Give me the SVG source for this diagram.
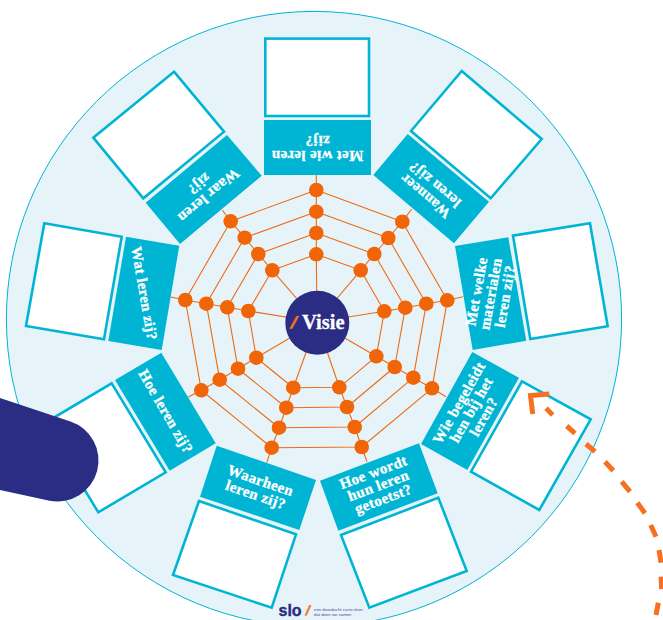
<svg xmlns="http://www.w3.org/2000/svg" width="663" height="620" viewBox="0 0 663 620">
<style>
.tab{fill:#00b5d4}
.box{fill:#fff;stroke:#00b5d4;stroke-width:2.6;stroke-linejoin:miter}
.lbl{font-family:"Liberation Serif","DejaVu Serif",serif;font-weight:700;font-size:15px;fill:#fff;stroke:#fff;stroke-width:.3px;text-anchor:middle;letter-spacing:.35px}
.web{fill:none;stroke:#ef6a10;stroke-width:1.1;stroke-linejoin:round}
.dot{fill:#ef6508}
.dash{fill:none;stroke:#f76f20;stroke-width:5}
</style>
<rect width="663" height="620" fill="#fff"/>
<circle id="wheel" cx="314" cy="319" r="307.6" fill="#e6f4fa" stroke="#00b5d4" stroke-width="1"/>
<g id="connectors">
<g class="web">
<polygon points="316.3,190 402.3,221.7 447.3,300.3 432,388.3 361.7,447 271.7,447.7 201.3,390.3 185.3,300 230.7,221.3"/>
<polygon points="316.3,211.7 388.3,238 426.3,303.7 413.3,377.7 354.7,427 279,427.7 219.7,379.7 206.3,303.7 244.7,237.7"/>
<polygon points="316.3,233 374.3,254 405.3,307.7 394.7,367 347,407 286.3,407.7 238,368.7 227.3,307.3 258.3,254"/>
<polygon points="316.3,254.3 360.7,270.3 384.3,311.3 376.3,356.3 339.3,387.3 293.3,387.7 256.3,357.7 248.3,311 272.3,270.3"/>
<polyline points="317,322 316.3,254.3 316.3,233 316.3,211.7 316.3,190 316.3,172"/>
<polyline points="317,322 360.7,270.3 374.3,254 388.3,238 402.3,221.7 411.7,209"/>
<polyline points="317,322 384.3,311.3 405.3,307.7 426.3,303.7 447.3,300.3 463,296.7"/>
<polyline points="317,322 376.3,356.3 394.7,367 413.3,377.7 432,388.3 446,396.7"/>
<polyline points="317,322 339.3,387.3 347,407 354.7,427 361.7,447 367,461.7"/>
<polyline points="317,322 293.3,387.7 286.3,407.7 279,427.7 271.7,447.7 266.7,462.7"/>
<polyline points="317,322 256.3,357.7 238,368.7 219.7,379.7 201.3,390.3 188.3,397"/>
<polyline points="317,322 248.3,311 227.3,307.3 206.3,303.7 185.3,300 170.7,297"/>
<polyline points="317,322 272.3,270.3 258.3,254 244.7,237.7 230.7,221.3 222.3,210"/>
</g>
</g>
<g id="web-nodes" class="dot">
<circle cx="316.3" cy="190" r="7.3"/><circle cx="402.3" cy="221.7" r="7.3"/><circle cx="447.3" cy="300.3" r="7.3"/><circle cx="432" cy="388.3" r="7.3"/><circle cx="361.7" cy="447" r="7.3"/><circle cx="271.7" cy="447.7" r="7.3"/><circle cx="201.3" cy="390.3" r="7.3"/><circle cx="185.3" cy="300" r="7.3"/><circle cx="230.7" cy="221.3" r="7.3"/>
<circle cx="316.3" cy="211.7" r="7.3"/><circle cx="388.3" cy="238" r="7.3"/><circle cx="426.3" cy="303.7" r="7.3"/><circle cx="413.3" cy="377.7" r="7.3"/><circle cx="354.7" cy="427" r="7.3"/><circle cx="279" cy="427.7" r="7.3"/><circle cx="219.7" cy="379.7" r="7.3"/><circle cx="206.3" cy="303.7" r="7.3"/><circle cx="244.7" cy="237.7" r="7.3"/>
<circle cx="316.3" cy="233" r="7.3"/><circle cx="374.3" cy="254" r="7.3"/><circle cx="405.3" cy="307.7" r="7.3"/><circle cx="394.7" cy="367" r="7.3"/><circle cx="347" cy="407" r="7.3"/><circle cx="286.3" cy="407.7" r="7.3"/><circle cx="238" cy="368.7" r="7.3"/><circle cx="227.3" cy="307.3" r="7.3"/><circle cx="258.3" cy="254" r="7.3"/>
<circle cx="316.3" cy="254.3" r="7.3"/><circle cx="360.7" cy="270.3" r="7.3"/><circle cx="384.3" cy="311.3" r="7.3"/><circle cx="376.3" cy="356.3" r="7.3"/><circle cx="339.3" cy="387.3" r="7.3"/><circle cx="293.3" cy="387.7" r="7.3"/><circle cx="256.3" cy="357.7" r="7.3"/><circle cx="248.3" cy="311" r="7.3"/><circle cx="272.3" cy="270.3" r="7.3"/>
</g>
<g id="hub">
<circle cx="317.3" cy="322.7" r="32" fill="#2b2d85"/>
<text transform="translate(289.8,327.7) skewX(-20)" font-family="'Liberation Sans',Arial,sans-serif" font-weight="700" font-size="16" fill="#f76f20" stroke="#f76f20" stroke-width=".8">/</text>
<text x="302" y="328.5" font-family="'Liberation Serif','DejaVu Serif',serif" font-weight="700" font-size="20.5" fill="#fff" stroke="#fff" stroke-width=".3">Visie</text>
</g>
<g id="met-wie">
<rect class="box" x="265.3" y="38.6" width="103.7" height="77.4"/>
<rect class="tab" x="264" y="120" width="107" height="55"/>
<text class="lbl" transform="translate(317.5,147.5) rotate(180)"><tspan x="0" y="-3">Met wie leren</tspan><tspan x="0" y="12">zij?</tspan></text>
</g>
<g id="wanneer">
<polygon class="box" points="461.7,71 541.7,139 490.7,198.3 411,131"/>
<polygon class="tab" points="407.7,134 489,201.7 454,243.3 373.3,175"/>
<text class="lbl" transform="translate(430.3,190) rotate(220)"><tspan x="0" y="-3">Wanneer</tspan><tspan x="0" y="12">leren zij?</tspan></text>
</g>
<g id="met-welke">
<polygon class="box" points="590,223.3 607.7,326.3 530.3,339 513,235.7"/>
<polygon class="tab" points="455,246 508.3,237.3 526.3,340.7 472.7,350"/>
<text class="lbl" transform="translate(491.2,294) rotate(-80)"><tspan x="0" y="-10">Met welke</tspan><tspan x="0" y="4.5">materialen</tspan><tspan x="0" y="19">leren zij?</tspan></text>
</g>
<g id="wie-begeleidt">
<polygon class="box" points="522,381.3 590.7,419.3 539.3,510 471,471.7"/>
<polygon class="tab" points="472.3,352 519,377.7 467.3,470 421,444"/>
<text class="lbl" transform="translate(471.7,410) rotate(-60.5)"><tspan x="0" y="-9.7">Wie begeleidt</tspan><tspan x="0" y="4.5">hen bij het</tspan><tspan x="0" y="18.7">leren?</tspan></text>
</g>
<g id="hoe-wordt">
<polygon class="box" points="438.3,497.7 466.7,571 369.3,607.7 341,535"/>
<polygon class="tab" points="320,480.7 419,443.3 437.7,493.3 338.3,530.7"/>
<text class="lbl" transform="translate(378.4,486) rotate(-20.5)"><tspan x="0" y="-9.7">Hoe wordt</tspan><tspan x="0" y="4.5">hun leren</tspan><tspan x="0" y="18.7">getoetst?</tspan></text>
</g>
<g id="waarheen">
<polygon class="box" points="199,501 296,534.3 271.7,607.7 173,575"/>
<polygon class="tab" points="216.7,445.7 316,480 299.3,530 200,496.7"/>
<text class="lbl" transform="translate(258,488.1) rotate(19)"><tspan x="0" y="-3">Waarheen</tspan><tspan x="0" y="12">leren zij?</tspan></text>
</g>
<g id="hoe-leren">
<polygon class="box" points="111.7,383.3 165.7,472.3 98.3,512.3 44.3,423.3"/>
<polygon class="tab" points="161.3,352.7 215.7,443.3 169.7,470.7 115,380"/>
<text class="lbl" transform="translate(165.4,411.7) rotate(60)" y="4.5">Hoe leren zij?</text>
</g>
<g id="wat-leren">
<polygon class="box" points="44.3,223.3 121.7,236.7 104,339.3 26,326"/>
<polygon class="tab" points="126,236.7 179.3,245.7 161.7,350 108.3,341"/>
<text class="lbl" transform="translate(143.8,293.4) rotate(80)" y="4.5">Wat leren zij?</text>
</g>
<g id="waar-leren">
<polygon class="box" points="174,71.7 224,131.7 143.3,198.3 93.3,137.7"/>
<polygon class="tab" points="227,135 261.7,175.7 180,244 145.7,202.7"/>
<text class="lbl" transform="translate(203.6,189.4) rotate(140)"><tspan x="0" y="-3">Waar leren</tspan><tspan x="0" y="12">zij?</tspan></text>
</g>
<g id="logo">
<text x="278.5" y="615.5" font-family="'Liberation Sans',Arial,sans-serif" font-weight="700" font-size="16" fill="#2b2d85" stroke="#2b2d85" stroke-width=".4">slo</text>
<text transform="translate(305,615.2) skewX(-15)" font-family="'Liberation Sans',Arial,sans-serif" font-weight="700" font-size="13" fill="#f76f20" stroke="#f76f20" stroke-width=".6">/</text>
<text font-family="'Liberation Sans',Arial,sans-serif" font-size="4.3" fill="#4a4a95"><tspan x="314" y="610.5">een doordacht curriculum</tspan><tspan x="314" y="615.5">dat doen we samen</tspan></text>
</g>
<path id="pointer" d="M0,398 L70.5,421.6 A41,41 0 0 1 49.5,500.7 L0,490 Z" fill="#2b2d85"/>
<g id="arrow">
<path class="dash" d="M549.3,394 L530.5,395.5 L532.7,414"/>
<path class="dash" d="M546,408.3 L552.7,415 M566.7,426 L575,433.3 M586,444 L595,451.7 M605,461.7 L613.3,470.7 M621.7,481.7 L630,491.7 M637.3,502.7 L645,513.3 M650.7,525 L656,536.7 M659,550 L661,562.7 M661,576.7 L661.7,589 M658.3,602.7 L656,615"/>
</g>
</svg>
